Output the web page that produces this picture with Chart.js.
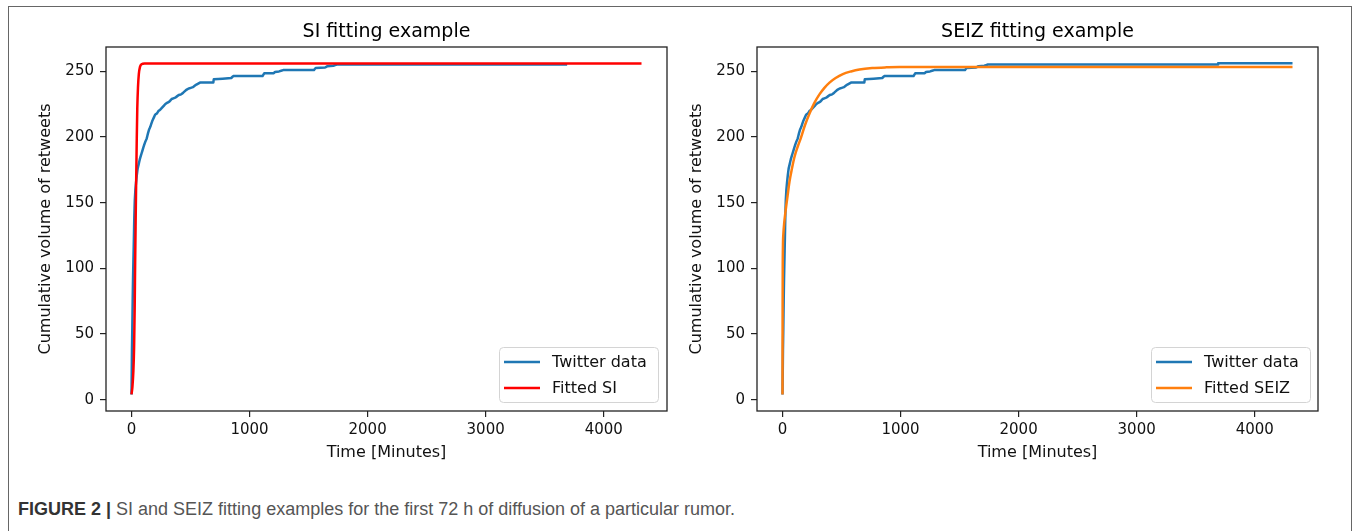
<!DOCTYPE html>
<html><head><meta charset="utf-8">
<script src="https://cdn.jsdelivr.net/npm/chart.js@4.4.1/dist/chart.umd.min.js"></script>
<style>
html,body{margin:0;padding:0;background:#fff;width:1359px;height:531px;overflow:hidden;}
#frame{position:absolute;left:8px;top:6px;width:1344px;height:600px;border:1.5px solid #666;box-sizing:border-box;}
canvas{position:absolute;top:0;}
#c1{left:0;} #c2{left:651px;}
#caption{position:absolute;left:18px;top:499px;font-family:"Liberation Sans",Arial,sans-serif;font-size:18px;color:#555;white-space:nowrap;}
#caption b{color:#333;}
</style></head><body>
<div id="frame"></div>
<canvas id="c1" width="680" height="480"></canvas>
<canvas id="c2" width="708" height="480"></canvas>
<div id="caption"><b>FIGURE 2 |</b> SI and SEIZ fitting examples for the first 72 h of diffusion of a particular rumor.</div>
<script>
// Twitter data (time in minutes, cumulative retweets)
const twitterT = [0,2,4,7,10,13,16,20,24,28,33,38,45,52,60,70,80,90,100,115,129,140,150,160,175,190,200,215,230,245,265,285,300,320,340,370,400,420,440,465,485,520,550,580,693,697,845,862,1110,1125,1205,1215,1250,1285,1545,1560,1640,1660,1710,1740,3690];
const twitterV = [4,20,38,55,75,92,105,122,140,152,160,165,171,176,179,183,186,189,192,196,199,203,206,208,212,215,217,218,220,221,223,225,226,227,229,230,232,232.5,234,236,237,238,240,241.5,241.5,244,245,246.5,246.5,248.6,248.6,249.6,250,251,251,252.6,253,254,254.3,255.3,255.3];
// extra tail of the Twitter data shown in the SEIZ panel
const twitterTailT = [3690,4320];
const twitterTailV = [256.3,256.3];
// Fitted SI curve
const siT = [0,8,16,22,27,31,35,39,44,49,55,62,72,85,110,4320];
const siV = [4,10,22,40,70,105,135,163,195,222,238,248,253.5,255.5,256,256];
// Fitted SEIZ curve
const seizT = [0,0.5,1,2,4,8,15,25,35,47,59,80,102,130,158,190,229,270,313,355,398,450,511,580,652,760,878,1000,1200,4320];
const seizV = [4,40,70,100,118,127,135,143,150,158,166,176,185,193,200,209,218,226,232.5,237.5,241.5,245,248,250,251.5,252.6,253.1,253.3,253.4,253.4];
// Axis ticks
const xTicks = [0,1000,2000,3000,4000];
const yTicks = [0,50,100,150,200,250];

const pts = (T,V) => T.map((t,i)=>({x:t,y:V[i]}));
const FONT = 'DejaVu Sans';

const framePlugin = {
  id:'axesFrame',
  afterDatasetsDraw(chart){
    const {ctx, chartArea:a} = chart;
    ctx.save(); ctx.strokeStyle='#222'; ctx.lineWidth=1.3;
    ctx.strokeRect(a.left, a.top, a.right-a.left, a.bottom-a.top);
    ctx.restore();
  }
};
const legendPlugin = {
  id:'boxLegend',
  afterDraw(chart, args, opts){
    const {ctx, chartArea:a} = chart;
    const items = chart.data.datasets;
    const w = 159, h = 55;
    const x = a.right - opts.right - w, y = a.bottom - 9 - h;
    ctx.save();
    ctx.fillStyle='rgba(255,255,255,0.85)'; ctx.strokeStyle='#d4d4d4'; ctx.lineWidth=1;
    ctx.beginPath(); ctx.roundRect(x+0.5, y+0.5, w, h, 4); ctx.fill(); ctx.stroke();
    ctx.font = '16px "' + FONT + '"'; ctx.textBaseline='middle'; ctx.fillStyle='#111';
    items.forEach((d,i)=>{
      const yy = y + 15 + i*26;
      ctx.strokeStyle = d.borderColor; ctx.lineWidth = 2.5;
      ctx.beginPath(); ctx.moveTo(x+5, yy); ctx.lineTo(x+41, yy); ctx.stroke();
      ctx.fillText(d.label, x+53, yy+1);
    });
    ctx.restore();
  }
};

function makeChart(id, title, datasets, padRight, legendRight){
  return new Chart(document.getElementById(id), {
    type:'line',
    data:{datasets},
    options:{
      responsive:false, animation:false, devicePixelRatio:1,
      layout:{padding:{left:0,right:padRight,top:0,bottom:0}},
      elements:{point:{radius:0}, line:{tension:0.0001, borderWidth:2.5, borderJoinStyle:'round', borderCapStyle:'butt'}},
      plugins:{
        legend:{display:false}, tooltip:{enabled:false},
        title:{display:true, text:title, fullSize:false, color:'#000',
          font:{family:FONT, size:19, weight:'normal'}, padding:{top:21,bottom:3.2}},
        boxLegend:{right:legendRight}
      },
      scales:{
        x:{type:'linear', min:-216, max:4536,
          afterBuildTicks: s => { s.ticks = xTicks.map(v=>({value:v})); },
          afterFit: s => { s.height = 69; },
          grid:{drawOnChartArea:false, drawTicks:true, tickLength:6, color:'#222', lineWidth:1.2},
          border:{display:false},
          ticks:{color:'#111', padding:4, font:{family:FONT, size:15}, callback:v=>String(v), maxRotation:0, autoSkip:false},
          title:{display:true, text:'Time [Minutes]', color:'#111', font:{family:FONT, size:16}, padding:{top:0,bottom:17.4}}
        },
        y:{type:'linear', min:-8.6, max:268.6,
          afterBuildTicks: s => { s.ticks = yTicks.map(v=>({value:v})); },
          afterFit: s => { s.width = 106; },
          grid:{drawOnChartArea:false, drawTicks:true, tickLength:6, color:'#222', lineWidth:1.2},
          border:{display:false},
          ticks:{color:'#111', padding:6, font:{family:FONT, size:15}, callback:v=>String(v), autoSkip:false},
          title:{display:true, text:'Cumulative volume of retweets', color:'#111', font:{family:FONT, size:16}, padding:{top:36,bottom:0}}
        }
      }
    },
    plugins:[framePlugin, legendPlugin]
  });
}

makeChart('c1', 'SI fitting example', [
  {label:'Twitter data', data:pts(twitterT,twitterV), borderColor:'#1f77b4', order:1},
  {label:'Fitted SI', data:pts(siT,siV), borderColor:'#ff0000', order:0, cubicInterpolationMode:'monotone'}
], 13, 9);

makeChart('c2', 'SEIZ fitting example', [
  {label:'Twitter data', data:pts(twitterT.concat(twitterTailT), twitterV.concat(twitterTailV)), borderColor:'#1f77b4', order:1},
  {label:'Fitted SEIZ', data:pts(seizT,seizV), borderColor:'#ff7f0e', order:0, cubicInterpolationMode:'monotone'}
], 41, 8);
</script>
</body></html>
